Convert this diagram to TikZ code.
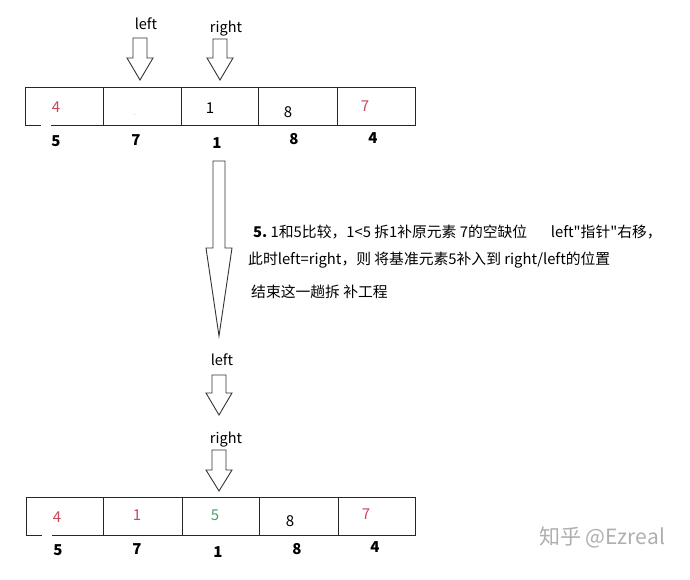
\documentclass[tikz,border=0pt]{standalone}
\usepackage{fontspec}
\setmainfont{Noto Sans CJK SC}
\newfontfamily\qf{Noto Sans CJK SC}
\definecolor{numred}{RGB}{205,70,90}
\definecolor{numgreen}{RGB}{70,160,110}
\definecolor{wm}{RGB}{175,175,175}
\newcommand\blkarrow[6]{%
  \draw[arrowline] (#1-#5,#2) -- (#1+#5,#2) -- (#1+#5,#3) -- (#1+#6,#3) -- (#1,#4) -- (#1-#6,#3) -- (#1-#5,#3) -- cycle;}
\newcommand\sq{{\qf"}}
\begin{document}
\begin{tikzpicture}[x=1pt,y=-1pt,
  cell/.style={draw=black!85,line width=1.3pt,minimum width=78pt,minimum height=38pt,inner sep=0pt,anchor=north west},
  arrowline/.style={draw=black!80,line width=0.9pt,line join=miter,fill=white},
  val/.style={font=\fontsize{15}{17}\selectfont,inner sep=0pt},
  idx/.style={font=\fontsize{15}{17}\selectfont\bfseries,inner sep=0pt},
  lab/.style={font=\fontsize{14.5}{17}\selectfont,inner sep=0pt},
  txt/.style={font=\fontsize{14.8}{17}\selectfont,inner sep=0pt,anchor=west}]
\useasboundingbox (0,0) rectangle (690,580);
\fill[white] (0,0) rectangle (690,580);

% ---------- top array ----------
\node[cell,minimum width=78pt] (a1) at (25,87) {};
\node[cell,minimum width=78pt] (a2) at (103,87) {};
\node[cell,minimum width=77pt] (a3) at (181,87) {};
\node[cell,minimum width=79pt] (a4) at (258,87) {};
\node[cell,minimum width=78pt] (a5) at (337,87) {};
\draw[white,line width=2pt] (41,125) -- (51,125);
\node[val,text=numred] (av1) at (56,107) {4};
\node[val,font=\fontsize{6}{6}\selectfont,text=black!50] (av2) at (135,115) {.};
\node[val] (av3) at (210,108) {1};
\node[val] (av4) at (288,112) {8};
\node[val,text=numred] (av5) at (365,106) {7};
\node[idx] (ai1) at (56,141) {5};
\node[idx] (ai2) at (136,140) {7};
\node[idx] (ai3) at (217,143) {1};
\node[idx] (ai4) at (294,139) {8};
\node[idx] (ai5) at (373,138) {4};

\node[lab] (lt) at (146,24) {left};
\node[lab] (rt) at (226,29) {right};
\blkarrow{140}{38}{58}{80}{7}{13}
\blkarrow{220}{39}{58}{80}{7}{13}

% ---------- big arrow ----------
\blkarrow{219}{161}{248}{336}{6}{13}

% ---------- text ----------
\node[txt] (t1) at (253,232) {\textbf{5.}\ 1和5比较，1<5 拆1补原元素 7的空缺位\hspace{1.6em}left\sq 指针\sq 右移，};
\node[txt] (t2) at (248,260) {此时left=right，则 将基准元素5补入到 right/left的位置};
\node[txt] (t3) at (251,292) {结束这一趟拆 补工程};

% ---------- bottom ----------
\node[lab] (lb) at (222,360) {left};
\blkarrow{219}{375}{393}{415}{7}{13}
\node[lab] (rb) at (226,440) {right};
\blkarrow{219}{450}{470}{491}{7}{13}

\node[cell,minimum width=77pt] (b1) at (26,497) {};
\node[cell,minimum width=79pt] (b2) at (103,497) {};
\node[cell,minimum width=77pt] (b3) at (182,497) {};
\node[cell,minimum width=79pt] (b4) at (259,497) {};
\node[cell,minimum width=77pt] (b5) at (338,497) {};
\draw[white,line width=2pt] (42,535) -- (52,535);
\node[val,text=numred] (bv1) at (57,517) {4};
\node[val,text=numred] (bv2) at (137,515) {1};
\node[val,text=numgreen] (bv3) at (215,515) {5};
\node[val] (bv4) at (290,521) {8};
\node[val,text=numred] (bv5) at (366,514) {7};
\node[idx] (bi1) at (58,550) {5};
\node[idx] (bi2) at (137,549) {7};
\node[idx] (bi3) at (218,552) {1};
\node[idx] (bi4) at (297,549) {8};
\node[idx] (bi5) at (375,547) {4};

\node[font=\fontsize{21}{24}\selectfont,text=wm,inner sep=0pt] (wm) at (602,537) {知乎 @Ezreal};
\end{tikzpicture}
\end{document}
